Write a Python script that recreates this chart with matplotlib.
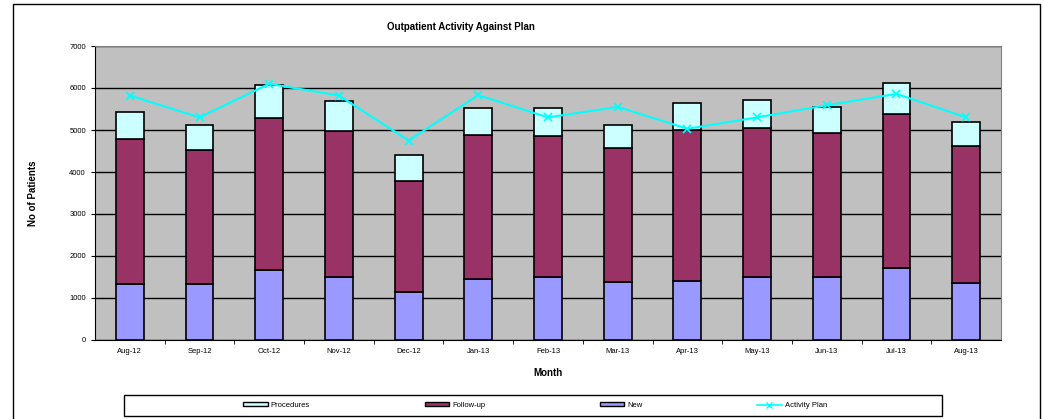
import matplotlib.pyplot as plt
from matplotlib.patches import Rectangle
from matplotlib.lines import Line2D

plt.rcParams['font.family'] = ['Liberation Sans', 'DejaVu Sans']

months = ['Aug-12', 'Sep-12', 'Oct-12', 'Nov-12', 'Dec-12', 'Jan-13', 'Feb-13',
          'Mar-13', 'Apr-13', 'May-13', 'Jun-13', 'Jul-13', 'Aug-13']
new = [1330, 1330, 1670, 1500, 1150, 1450, 1500, 1380, 1410, 1510, 1500, 1720, 1360]
follow_up = [3460, 3190, 3620, 3480, 2640, 3430, 3360, 3180, 3600, 3540, 3440, 3650, 3250]
procedures = [650, 610, 780, 710, 610, 640, 660, 560, 630, 670, 600, 750, 570]
plan = [5820, 5300, 6100, 5820, 4750, 5830, 5300, 5550, 5030, 5300, 5590, 5860, 5300]

c_new = '#9999FF'
c_fu = '#993366'
c_proc = '#CCFFFF'
c_plan = '#00FFFF'

fig = plt.figure(figsize=(10.44, 4.19), dpi=100)
ax = fig.add_axes([95 / 1044, 1 - 340 / 419, 906 / 1044, 294 / 419])
ax.set_facecolor('#C0C0C0')

x = list(range(len(months)))
bottom_fu = new
bottom_proc = [a + b for a, b in zip(new, follow_up)]
ax.bar(x, new, width=0.4, color=c_new, edgecolor='black', linewidth=1.2, zorder=3)
ax.bar(x, follow_up, width=0.4, bottom=bottom_fu, color=c_fu, edgecolor='black', linewidth=1.2, zorder=3)
ax.bar(x, procedures, width=0.4, bottom=bottom_proc, color=c_proc, edgecolor='black', linewidth=1.2, zorder=3)
ax.plot(x, plan, color=c_plan, marker='x', markersize=6, markeredgewidth=1.2, linewidth=1.5, zorder=4)

ax.set_xlim(-0.5, len(months) - 0.5)
ax.set_ylim(0, 7000)
ax.set_yticks(range(0, 7001, 1000))
ax.grid(axis='y', color='black', linewidth=1, zorder=1)
ax.set_axisbelow(True)

ax.set_xticks(x)
ax.set_xticklabels(months, fontsize=5.5)
ax.tick_params(axis='x', length=0, pad=6)
ax.set_xticks([i + 0.5 for i in x[:-1]], minor=True)
ax.tick_params(axis='x', which='minor', length=3, direction='out', color='black')
ax.tick_params(axis='y', labelsize=5.5, length=3, direction='out')

for s in ['top', 'right']:
    ax.spines[s].set_color('#808080')
for s in ['left', 'bottom']:
    ax.spines[s].set_color('black')

fig.text(461 / 1044, 1 - 27 / 419, 'Outpatient Activity Against Plan', ha='center', va='center',
         fontsize=7, fontweight='bold')
fig.text(33 / 1044, 1 - 193 / 419, 'No of Patients', ha='center', va='center', rotation=90,
         fontsize=7, fontweight='bold')
fig.text(548 / 1044, 1 - 373 / 419, 'Month', ha='center', va='center', fontsize=7, fontweight='bold')

# outer chart border
fig.patches.append(Rectangle((13 / 1044, -0.01), (1040 - 13) / 1044, 1 - 4 / 419 + 0.01,
                             transform=fig.transFigure, fill=False, edgecolor='black', linewidth=1))
# legend box
fig.patches.append(Rectangle((124 / 1044, 1 - 416 / 419), (942 - 124) / 1044, 21 / 419,
                             transform=fig.transFigure, fill=False, edgecolor='black', linewidth=1))

handles = [Rectangle((0, 0), 1, 1, facecolor=c_proc, edgecolor='black'),
           Rectangle((0, 0), 1, 1, facecolor=c_fu, edgecolor='black'),
           Rectangle((0, 0), 1, 1, facecolor=c_new, edgecolor='black'),
           Line2D([], [], color=c_plan, marker='x', markersize=4, linewidth=1.2)]
fig.legend(handles, ['Procedures', 'Follow-up', 'New', 'Activity Plan'], ncol=4,
           loc='center', bbox_to_anchor=(535 / 1044, 1 - 405.5 / 419), frameon=False,
           fontsize=5.5, columnspacing=15, handlelength=3.2, handleheight=0.5, handletextpad=0.4)

fig.savefig('out.png', dpi=100)
